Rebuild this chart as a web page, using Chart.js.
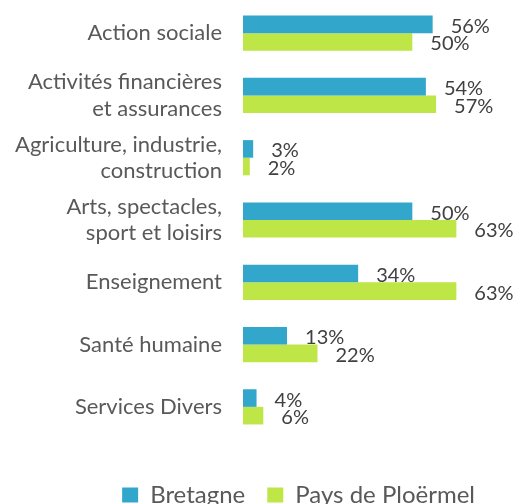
<!DOCTYPE html>
<html>
<head>
<meta charset="utf-8">
<script src="https://cdn.jsdelivr.net/npm/chart.js@4.4.1/dist/chart.umd.min.js"></script>
<style>
  html, body { margin: 0; padding: 0; background: #fff; overflow: hidden; }
  #wrap { width: 515px; height: 517px; position: relative; }
</style>
</head>
<body>
<div id="wrap"><canvas id="chart"></canvas></div>
<script>
// catégories (libellés sur plusieurs lignes)
const categories = [
  ['Action sociale'],
  ['Activités financières', 'et assurances'],
  ['Agriculture, industrie,', 'construction'],
  ['Arts, spectacles,', 'sport et loisirs'],
  ['Enseignement'],
  ['Santé humaine'],
  ['Services Divers']
];
const seriesNames = ['Bretagne', 'Pays de Ploërmel'];
const bretagne = [56, 54, 3, 50, 34, 13, 4];
const ploermel = [50, 57, 2, 63, 63, 22, 6];

const FONT = 'Lato, "Open Sans", sans-serif';

// étiquettes de valeur au bout des barres
const valueLabels = {
  id: 'valueLabels',
  afterDatasetsDraw(chart) {
    const ctx = chart.ctx;
    ctx.save();
    ctx.font = '20px ' + FONT;
    ctx.fillStyle = '#404040';
    ctx.textAlign = 'left';
    ctx.textBaseline = 'middle';
    chart.data.datasets.forEach((ds, i) => {
      const meta = chart.getDatasetMeta(i);
      meta.data.forEach((bar, j) => {
        ctx.fillText(ds.data[j] + '%', bar.x + 18, bar.y + 2);
      });
    });
    ctx.restore();
  }
};

const ctx = document.getElementById('chart').getContext('2d');
new Chart(ctx, {
  type: 'bar',
  data: {
    labels: categories,
    datasets: [{
      label: seriesNames[0],
      data: bretagne,
      backgroundColor: '#33a6cc',
      barPercentage: 1,
      categoryPercentage: 0.565
    }, {
      label: seriesNames[1],
      data: ploermel,
      backgroundColor: '#bde646',
      barPercentage: 1,
      categoryPercentage: 0.565
    }]
  },
  options: {
    indexAxis: 'y',
    responsive: true,
    maintainAspectRatio: false,
    animation: false,
    layout: { padding: { top: 2, right: 18, left: 0, bottom: 0 } },
    scales: {
      x: {
        display: false,
        min: 0,
        max: 75
      },
      y: {
        grid: { display: false, drawTicks: false },
        border: { display: false },
        ticks: {
          color: '#595959',
          padding: 21,
          font: { family: FONT, size: 22, lineHeight: 1.2 }
        },
        afterFit(scale) {
          scale.width = 243;
          scale.paddingTop = 0;
          scale.paddingBottom = 0;
        }
      }
    },
    plugins: {
      legend: {
        position: 'bottom',
        align: 'end',
        // titre vide : sert juste d'espace au-dessus de la légende
        title: { display: true, text: '', font: { size: 10 }, padding: { top: 0, bottom: 11 } },
        labels: {
          color: '#595959',
          boxWidth: 16,
          boxHeight: 15,
          padding: 22,
          font: { family: FONT, size: 24 }
        }
      },
      tooltip: { enabled: false }
    }
  },
  plugins: [valueLabels]
});
</script>
</body>
</html>
